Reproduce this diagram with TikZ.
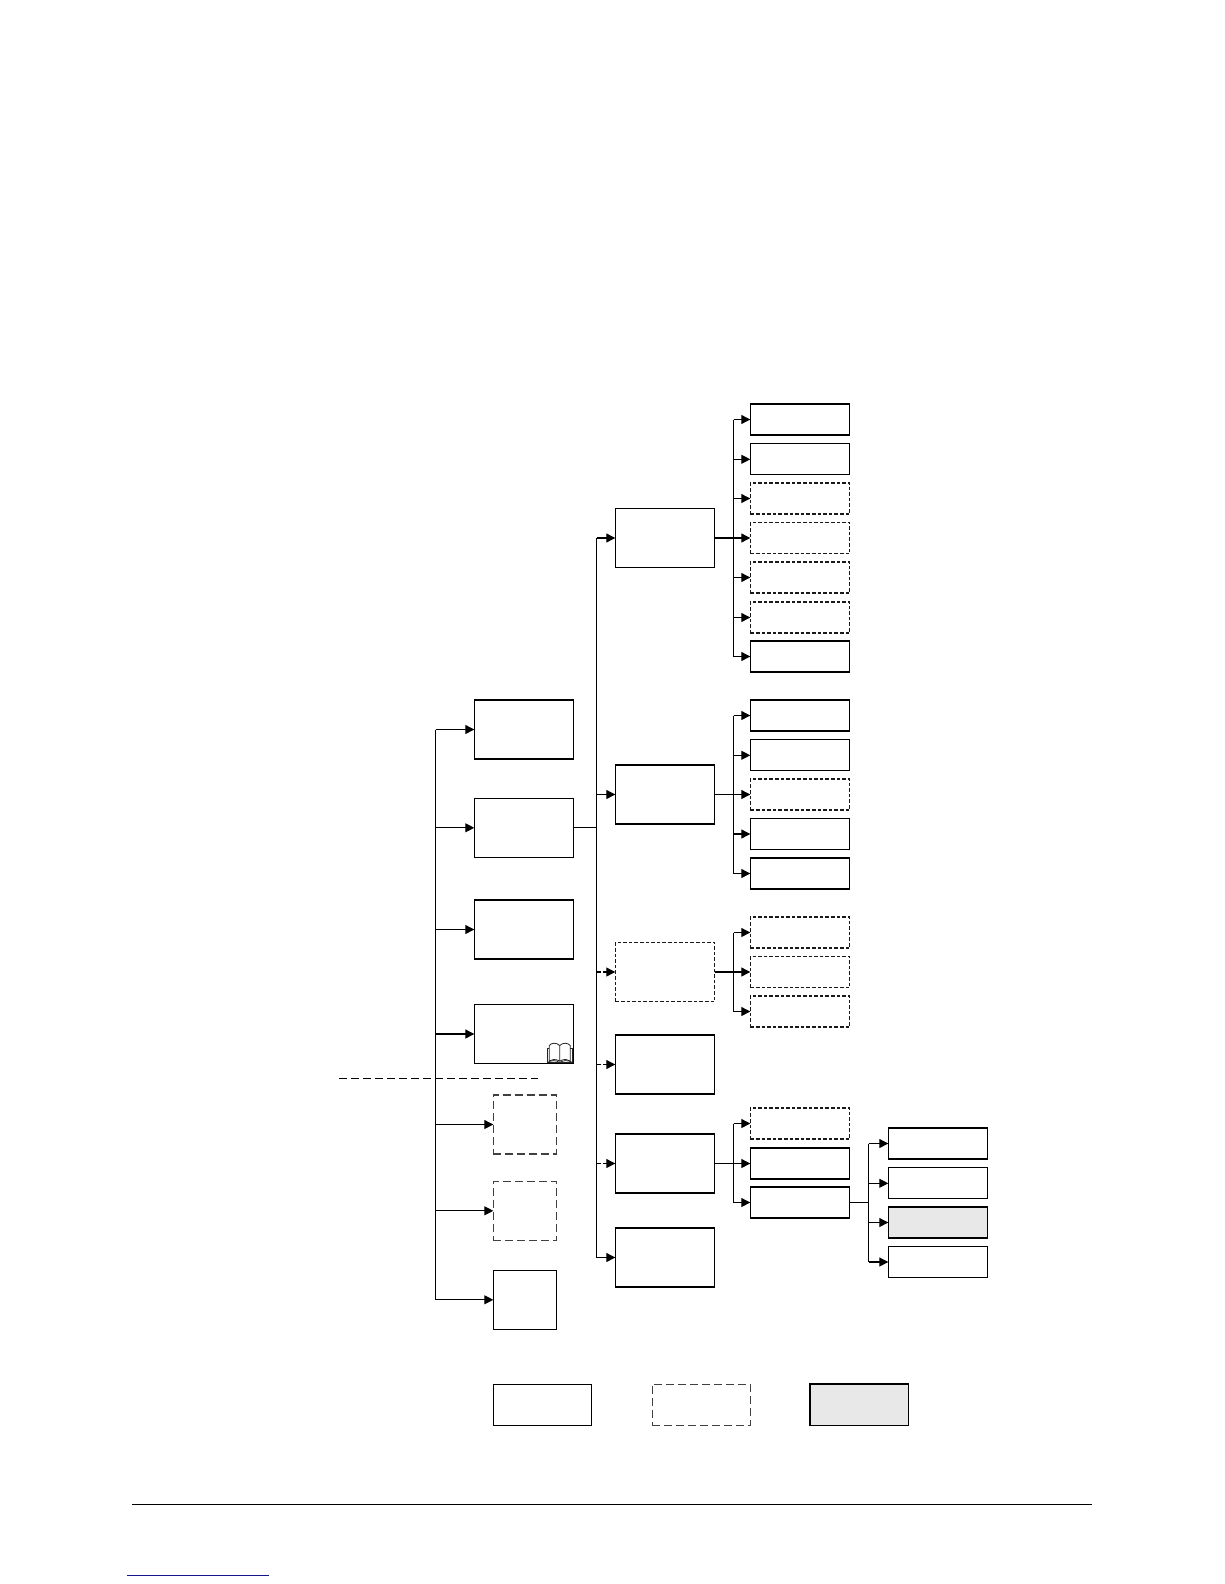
\documentclass[tikz,border=0pt]{standalone}
\usetikzlibrary{arrows.meta}
\tikzset{
  x=1pt,y=-1pt,
  every node/.style={inner sep=0pt,outer sep=0pt},
  wire/.style={line width=1.1pt,black},
  arr/.style={wire,-{Triangle[length=9pt,width=9pt]}},
  dasharr/.style={arr,dash pattern=on 4pt off 2pt},
  solidbox/.style={draw=black,line width=1.1pt,fill=white},
  leaf/.style={minimum width=99.4pt,minimum height=31pt},
  mid/.style={minimum width=99.4pt,minimum height=59pt},
  narrow/.style={minimum width=63.4pt,minimum height=59pt},
  dashsmall/.style={draw=black!90,line width=1.2pt,fill=white,dash pattern=on 3.6pt off 2pt},
  dashbig/.style={draw=black!75,line width=1.2pt,fill=white,dash pattern=on 8pt off 4pt},
  greybox/.style={draw=black,line width=1.1pt,fill=black!9},
}
\begin{document}
\begin{tikzpicture}
\useasboundingbox (0,0) rectangle (1224,1584);
% column 2
\node[solidbox,mid] (a1) at (524,729.5) {};
\node[solidbox,mid] (a2) at (524,827.8) {};
\node[solidbox,mid] (a3) at (524,929.5) {};
\node[solidbox,mid] (a4) at (524,1034) {};
\node[dashbig,narrow] (a5) at (525,1124.5) {};
\node[dashbig,narrow] (a6) at (525,1210.8) {};
\node[solidbox,narrow] (a7) at (525,1299.8) {};
% column 3
\node[solidbox,mid] (b1) at (665,538) {};
\node[solidbox,mid] (b2) at (665,794.5) {};
\node[dashsmall,mid] (b3) at (665,972) {};
\node[solidbox,mid] (b4) at (665,1064.5) {};
\node[solidbox,mid] (b5) at (665,1163.5) {};
\node[solidbox,mid] (b6) at (665,1257.5) {};
% column 4, group 1
\node[solidbox,leaf] (c1) at (800,419.5) {};
\node[solidbox,leaf] (c2) at (800,459.3) {};
\node[dashsmall,leaf] (c3) at (800,498.5) {};
\node[dashsmall,leaf] (c4) at (800,538) {};
\node[dashsmall,leaf] (c5) at (800,577.5) {};
\node[dashsmall,leaf] (c6) at (800,617.5) {};
\node[solidbox,leaf] (c7) at (800,656.5) {};
% group 2
\node[solidbox,leaf] (d1) at (800,715.5) {};
\node[solidbox,leaf] (d2) at (800,755.3) {};
\node[dashsmall,leaf] (d3) at (800,794.5) {};
\node[solidbox,leaf] (d4) at (800,834) {};
\node[solidbox,leaf] (d5) at (800,873.5) {};
% group 3
\node[dashsmall,leaf] (e1) at (800,932.5) {};
\node[dashsmall,leaf] (e2) at (800,972) {};
\node[dashsmall,leaf] (e3) at (800,1011.5) {};
% group 4
\node[dashsmall,leaf] (f1) at (800,1123.5) {};
\node[solidbox,leaf] (f2) at (800,1163.5) {};
\node[solidbox,leaf] (f3) at (800,1202.5) {};
% column 5
\node[solidbox,leaf] (g1) at (938,1143.5) {};
\node[solidbox,leaf] (g2) at (938,1183.3) {};
\node[greybox,leaf] (g3) at (938,1222.5) {};
\node[solidbox,leaf] (g4) at (938,1262) {};
% legend
\node[solidbox,minimum width=98.4pt,minimum height=41pt] (l1) at (542.5,1404.8) {};
\node[dashbig,minimum width=98.4pt,minimum height=41pt] (l2) at (701.4,1404.6) {};
\node[greybox,minimum width=98.4pt,minimum height=41pt] (l3) at (859,1404.6) {};
\draw[line width=1.8pt,black,line cap=rect] (l3.south west) -- (l3.north west) -- (l3.north east);
% free ends
\coordinate (ta1) at (435.5,729.5);
\coordinate (ta2) at (435.5,827.8);
\coordinate (ta3) at (435.5,929.5);
\coordinate (ta4) at (435.5,1034);
\coordinate (ta5) at (435.5,1124.5);
\coordinate (ta6) at (435.5,1210.8);
\coordinate (ta7) at (435.5,1299.8);
\coordinate (tb0) at (596.5,827.8);
\coordinate (tb1) at (596.5,538);
\coordinate (tb2) at (596.5,794.5);
\coordinate (tb3) at (596.5,972);
\coordinate (tb4) at (596.5,1064.5);
\coordinate (tb5) at (596.5,1163.5);
\coordinate (tb6) at (596.5,1257.5);
\coordinate (hl) at (339,1078.5);
\coordinate (hr) at (538,1078.5);
\coordinate (fl) at (132,1504.3);
\coordinate (fr) at (1092,1504.3);
\coordinate (ul) at (127,1575.3);
\coordinate (ur) at (269,1575.3);
% trunks
\draw[wire] (ta1) -- (ta7);
\draw[wire] (tb1) -- (tb6);
\draw[wire] (a2.east) -- (tb0);
\foreach \i in {1,...,7} {\draw[arr] (ta\i) -- (a\i.west);}
\draw[arr] (tb1) -- (b1.west);
\draw[arr] (tb2) -- (b2.west);
\draw[dasharr] (tb3) -- (b3.west);
\draw[dasharr] (tb4) -- (b4.west);
\draw[dasharr] (tb5) -- (b5.west);
\draw[arr] (tb6) -- (b6.west);
% group 1 connectors
\coordinate (sc1) at (733.5,419.5);
\coordinate (sc7) at (733.5,656.5);
\draw[wire] (b1.east) -- (sc1 |- b1.east);
\draw[wire] (sc1) -- (sc7);
\foreach \i in {1,...,7} {\draw[arr] (sc1 |- c\i.west) -- (c\i.west);}
% group 2
\coordinate (sd1) at (733.5,715.5);
\coordinate (sd5) at (733.5,873.5);
\draw[wire] (sd1) -- (sd5);
\foreach \i in {1,...,5} {\draw[arr] (sd1 |- d\i.west) -- (d\i.west);}
\draw[wire] (b2.east) -- (sd1 |- b2.east);
% group 3
\coordinate (se1) at (733.5,932.5);
\coordinate (se3) at (733.5,1011.5);
\draw[wire] (se1) -- (se3);
\foreach \i in {1,2,3} {\draw[arr] (se1 |- e\i.west) -- (e\i.west);}
\draw[wire] (b3.east) -- (se1 |- b3.east);
% group 4
\coordinate (sf1) at (733.5,1123.5);
\coordinate (sf3) at (733.5,1202.5);
\draw[wire] (sf1) -- (sf3);
\foreach \i in {1,2,3} {\draw[arr] (sf1 |- f\i.west) -- (f\i.west);}
\draw[wire] (b5.east) -- (sf1 |- b5.east);
% group 5
\coordinate (sg1) at (868.5,1143.5);
\coordinate (sg4) at (868.5,1262);
\draw[wire] (sg1) -- (sg4);
\foreach \i in {1,...,4} {\draw[arr] (sg1 |- g\i.west) -- (g\i.west);}
\draw[wire] (f3.east) -- (sg1 |- f3.east);
% dashed divider, rules
\draw[line width=1.1pt,black,dash pattern=on 8pt off 4pt] (hl) -- (hr);
\draw[line width=1.1pt,black] (fl) -- (fr);
\draw[line width=1.2pt,color={rgb,255:red,20;green,20;blue,140}] (ul) -- (ur);
% book icon
\begin{scope}[shift={(a4.south east)},line width=0.8pt,draw=black!85,fill=none]
\draw (-14,-2.5) .. controls (-19,-5) and (-22,-4) .. (-24.5,-2.5) -- (-24.5,-18) .. controls (-22,-21) and (-17,-21) .. (-14,-18) -- cycle;
\draw (-14,-2.5) .. controls (-9,-5) and (-6,-4) .. (-3.5,-2.5) -- (-3.5,-18) .. controls (-6,-21) and (-11,-21) .. (-14,-18);
\draw (-24.5,-15) -- (-26.5,-15) -- (-26.5,-1) -- (-1,-1) -- (-1,-15) -- (-3.5,-15);
\draw (-26.5,-1) .. controls (-22,-3.5) and (-18,-3.5) .. (-14,-1) .. controls (-10,-3.5) and (-6,-3.5) .. (-1,-1);
\end{scope}
\end{tikzpicture}
\end{document}
